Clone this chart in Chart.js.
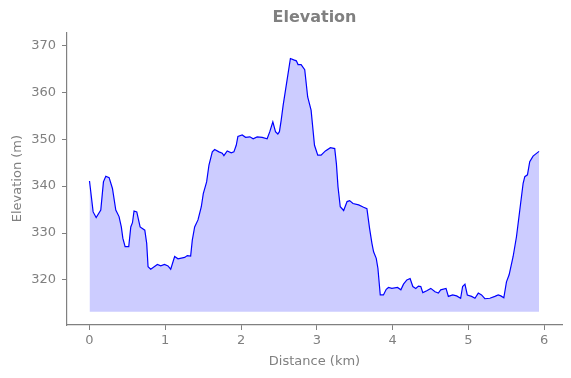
<!DOCTYPE html>
<html>
<head>
<meta charset="utf-8">
<script src="https://cdn.jsdelivr.net/npm/chart.js@4.4.1/dist/chart.umd.min.js"></script>
<style>
  html, body { margin: 0; padding: 0; background: #fff; }
  #wrap { width: 571px; height: 378px; }
</style>
</head>
<body>
<div id="wrap"><canvas id="elevChart" width="571" height="378"></canvas></div>
<script>
// Profile, distance in km, elevation in m
const distKm = [
  0, 0.048, 0.088, 0.149, 0.184, 0.215, 0.259, 0.303, 0.347, 0.39, 0.42, 0.44, 0.47, 0.518,
  0.545, 0.567, 0.588, 0.624, 0.668, 0.73, 0.755, 0.773, 0.808, 0.896, 0.94, 0.99, 1.036,
  1.072, 1.124, 1.168, 1.256, 1.291, 1.335, 1.357, 1.388, 1.432, 1.476, 1.502, 1.546, 1.577,
  1.621, 1.652, 1.709, 1.752, 1.774, 1.818, 1.871, 1.906, 1.937, 1.959, 2.016, 2.06, 2.117,
  2.16, 2.213, 2.279, 2.345, 2.38, 2.42, 2.455, 2.486, 2.507, 2.53, 2.556, 2.6, 2.652, 2.696,
  2.73, 2.753, 2.793, 2.841, 2.88, 2.925, 2.97, 3.013, 3.057, 3.114, 3.18, 3.237, 3.259,
  3.28, 3.31, 3.355, 3.4, 3.434, 3.478, 3.553, 3.618, 3.662, 3.697, 3.728, 3.75, 3.785,
  3.807, 3.838, 3.88, 3.917, 3.947, 3.991, 4.066, 4.11, 4.145, 4.189, 4.232, 4.268, 4.307,
  4.342, 4.373, 4.4, 4.452, 4.505, 4.561, 4.605, 4.636, 4.706, 4.737, 4.794, 4.846, 4.899,
  4.925, 4.956, 4.987, 5.044, 5.088, 5.132, 5.175, 5.219, 5.285, 5.351, 5.395, 5.43, 5.469,
  5.504, 5.539, 5.592, 5.636, 5.68, 5.724, 5.746, 5.781, 5.811, 5.855, 5.934
];
const elevM = [
  341.1, 334.5, 333.3, 334.9, 340.9, 342.1, 341.8, 339.5, 334.9, 333.5, 331.3, 328.9, 327.1, 327.1,
  331.3, 332.2, 334.7, 334.5, 331.3, 330.6, 327.8, 322.8, 322.3, 323.3, 323.0, 323.3, 323.0,
  322.3, 325.0, 324.5, 324.8, 325.2, 325.1, 328.5, 331.3, 332.8, 335.6, 338.4, 340.9, 344.5,
  347.3, 347.8, 347.3, 347.0, 346.5, 347.5, 347.1, 347.3, 348.7, 350.6, 350.9, 350.4, 350.5,
  350.1, 350.5, 350.4, 350.1, 351.6, 353.7, 351.6, 351.1, 351.6, 354.0, 357.2, 361.8, 367.2, 366.9,
  366.7, 365.9, 365.9, 364.8, 359.0, 356.2, 348.7, 346.6, 346.6, 347.5, 348.2, 348.0, 344.8,
  339.9, 335.6, 334.8, 336.7, 336.9, 336.3, 336.0, 335.5, 335.2, 331.0, 327.8, 326.0, 324.6,
  322.5, 316.8, 316.8, 318.0, 318.4, 318.2, 318.4, 317.9, 319.1, 320.0, 320.3, 318.6, 318.2,
  318.7, 318.6, 317.3, 317.7, 318.2, 317.5, 317.2, 317.9, 318.2, 316.5, 316.8, 316.6, 316.1,
  318.6, 319.1, 316.8, 316.5, 316.1, 317.2, 316.8, 316.0, 316.1, 316.5, 316.8, 316.6, 316.2,
  319.6, 321.1, 325.0, 329.2, 334.9, 340.6, 342.0, 342.4, 345.2, 346.4, 347.4
];
const fillBase = 313.2;
const xTicks = [0, 1, 2, 3, 4, 5, 6];
const yTicks = [320, 330, 340, 350, 360, 370];

const GRAY = '#808080';
const FONT = 'DejaVu Sans';

const points = distKm.map((d, i) => ({ x: d, y: elevM[i] }));

new Chart(document.getElementById('elevChart'), {
  type: 'line',
  data: {
    datasets: [{
      data: points,
      borderColor: '#0000ff',
      borderWidth: 1.2,
      backgroundColor: 'rgba(0, 0, 255, 0.2)',
      fill: { value: fillBase },
      pointRadius: 0,
      tension: 0
    }]
  },
  options: {
    responsive: false,
    animation: false,
    layout: { padding: { left: 10, right: 9, top: 0, bottom: 9 } },
    plugins: {
      legend: { display: false },
      tooltip: { enabled: false },
      title: {
        display: true,
        text: 'Elevation',
        fullSize: false,
        color: GRAY,
        font: { family: FONT, size: 16, weight: 'bold', lineHeight: 1.2 },
        padding: { top: 8, bottom: 5 }
      }
    },
    scales: {
      x: {
        type: 'linear',
        min: -0.297,
        max: 6.237,
        afterBuildTicks: s => { s.ticks = xTicks.map(v => ({ value: v })); },
        afterFit: s => { s.height = 44; },
        border: { display: true, color: GRAY, width: 1.2 },
        grid: { display: true, drawOnChartArea: false, drawTicks: true, tickLength: 5, color: GRAY },
        ticks: { color: GRAY, padding: 3, font: { family: FONT, size: 13 }, maxRotation: 0 },
        title: { display: true, text: 'Distance (km)', color: GRAY, padding: { top: 1, bottom: 0 }, font: { family: FONT, size: 13 } }
      },
      y: {
        type: 'linear',
        min: 310.4,
        max: 372.8,
        afterBuildTicks: s => { s.ticks = yTicks.map(v => ({ value: v })); },
        afterFit: s => { s.width = 57; },
        border: { display: true, color: GRAY, width: 1.2 },
        grid: { display: true, drawOnChartArea: false, drawTicks: true, tickLength: 5, color: GRAY },
        ticks: { color: GRAY, padding: 6, font: { family: FONT, size: 13 } },
        title: { display: true, text: 'Elevation (m)', color: GRAY, padding: { top: 0, bottom: 2 }, font: { family: FONT, size: 13 } }
      }
    }
  }
});
</script>
</body>
</html>
